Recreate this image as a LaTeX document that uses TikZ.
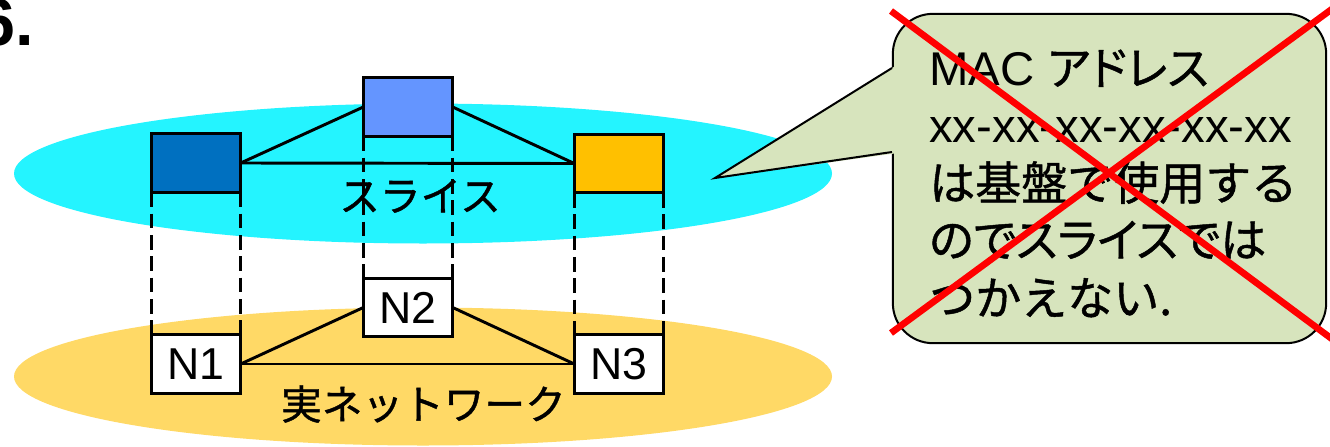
\documentclass[tikz,border=0pt]{standalone}
\usepackage{fontspec}
\setmainfont{Liberation Sans}
\newfontfamily\jp[FakeBold=1]{Noto Sans CJK JP}
\newfontfamily\jpp[FakeBold=1,RawFeature=+palt]{Noto Sans CJK JP}
\definecolor{slicefill}{HTML}{24F4FF}
\definecolor{realfill}{HTML}{FFD966}
\definecolor{darkblue}{HTML}{0070C0}
\definecolor{lightblue}{HTML}{6495FF}
\definecolor{orangebox}{HTML}{FFC000}
\definecolor{cofill}{HTML}{D7E4BD}
\tikzset{
  nodebox/.style={draw=black, line width=2.2pt, minimum width=67pt, minimum height=44pt,
    inner sep=0pt, outer sep=0pt, font=\fontsize{33.5pt}{40pt}\selectfont},
  link/.style={line width=2.2pt},
  proj/.style={line width=1.8pt, dash pattern=on 11pt off 5pt},
  calloutbox/.style={draw=black, fill=cofill, line width=1.5pt, rounded corners=30pt,
    minimum width=325pt, minimum height=247pt, inner sep=0pt, outer sep=0pt},
  ctext/.style={anchor=base west, inner sep=0pt, font=\fontsize{35.5pt}{42pt}\selectfont},
  cjtext/.style={anchor=base west, inner sep=0pt, font=\fontsize{34.5pt}{42pt}\selectfont\jp},
  layerlabel/.style={inner sep=0pt, font=\fontsize{30.5pt}{36pt}\selectfont\jp},
  redx/.style={draw=red, line width=5pt}
}
\begin{document}
\begin{tikzpicture}[x=0.75pt,y=-0.75pt]
\useasboundingbox (0,0) rectangle (1330,446);
% title fragment
\node[anchor=base west, inner sep=0pt, font=\fontsize{50pt}{60pt}\selectfont\bfseries] (num) at (-22,45) {6.};
% layers
\fill[slicefill] (423,173.5) ellipse [x radius=409, y radius=70];
\fill[realfill] (423,376.5) ellipse [x radius=409, y radius=69];
% slice boxes
\node[nodebox, fill=darkblue] (s1) at (196,163) {};
\node[nodebox, fill=lightblue] (s2) at (408,107) {};
\node[nodebox, fill=orangebox] (s3) at (619,163.5) {};
% real nodes
\node[nodebox, fill=white] (n1) at (196,364) {N1};
\node[nodebox, fill=white] (n2) at (408,307.5) {N2};
\node[nodebox, fill=white] (n3) at (619,364) {N3};
% labels
\node[layerlabel] (lslice) at (420,196) {スライス};
\node[layerlabel] (lreal) at (423.5,404) {実ネットワーク};
% links
\draw[link] (s1.east) -- (s2.west);
\draw[link] (s2.east) -- (s3.west);
\draw[link] (s1.east) -- (s3.west);
\draw[link] (n1.east) -- (n2.west);
\draw[link] (n2.east) -- (n3.west);
\draw[link] (n1.east) -- (n3.west);
% projections
\draw[proj] (s1.south west) -- (n1.north west);
\draw[proj] (s1.south east) -- (n1.north east);
\draw[proj] (s2.south west) -- (n2.north west);
\draw[proj] (s2.south east) -- (n2.north east);
\draw[proj] (s3.south west) -- (n3.north west);
\draw[proj] (s3.south east) -- (n3.north east);
% callout
\node[calloutbox] (co) at (1109.5,178.5) {};
\coordinate (tip) at (715,178);
\coordinate (ta) at (892,68);
\coordinate (tb) at (892,152);
\fill[cofill] (894.5,66.5) -- (tip) -- (894.5,153.5) -- cycle;
\draw[line width=1.5pt, line join=miter] (ta) -- (tip) -- (tb);
\node[ctext] (c1) at (929,85) {MAC {\fontsize{34.5pt}{42pt}\selectfont\jpp アドレス}};
\node[ctext] (c2) at (929,142) {xx-xx-xx-xx-xx-xx};
\node[cjtext] (c3) at (929,200) {は基盤で使用する};
\node[cjtext, font=\fontsize{34.5pt}{42pt}\selectfont\jpp] (c4) at (929,257) {のでスライスでは};
\node[cjtext] (c5) at (929,315) {つかえない.};
% red cross
\coordinate (xa1) at (891,11);
\coordinate (xa2) at (1332,339);
\coordinate (xb1) at (891,333);
\coordinate (xb2) at (1332,9);
\draw[redx] (xa1) -- (xa2);
\draw[redx] (xb1) -- (xb2);
\end{tikzpicture}
\end{document}
